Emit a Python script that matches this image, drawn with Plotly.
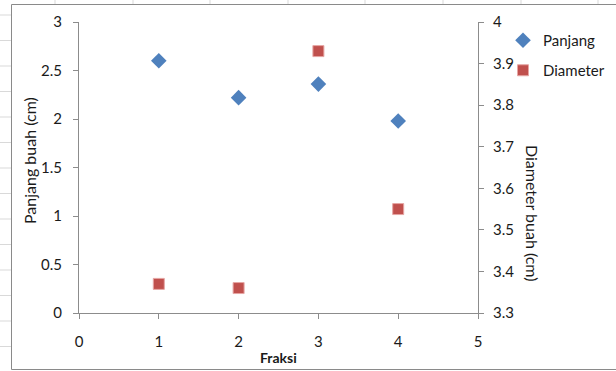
import plotly.graph_objects as go

fraksi = [1, 2, 3, 4]
panjang = [2.60, 2.22, 2.36, 1.98]
diameter = [3.37, 3.36, 3.93, 3.55]

W, H = 616, 371
L, R, T, B = 79, 138, 22, 58
PW, PH = W - L - R, H - T - B

def px(x):
    return (x - L) / PW

def py(y):
    return (H - B - y) / PH

FONT = "Lato"
TXT = "#1a1a1a"
AX = "#8c8c8c"

fig = go.Figure()
fig.add_trace(go.Scatter(x=fraksi, y=panjang, mode="markers", name="Panjang",
                         marker=dict(symbol="diamond", size=12, color="#4F81BD",
                                     line=dict(width=0)),
                         legend="legend", showlegend=True))
fig.add_trace(go.Scatter(x=fraksi, y=diameter, mode="markers", name="Diameter",
                         marker=dict(symbol="square", size=11, color="#C0504D",
                                     line=dict(width=1, color="#E6A6A4")),
                         yaxis="y2", legend="legend2", showlegend=True))

shapes = []
for gx in [55, 133, 210, 288, 365, 443, 521, 598]:
    shapes.append(dict(type="line", xref="paper", yref="paper",
                       x0=px(gx), x1=px(gx), y0=py(0), y1=py(4),
                       line=dict(color="#d9d9d9", width=1), layer="below"))
gy = 15.0
while gy < H:
    shapes.append(dict(type="line", xref="paper", yref="paper",
                       x0=px(0), x1=px(11), y0=py(gy), y1=py(gy),
                       line=dict(color="#d9d9d9", width=1), layer="below"))
    gy += 25.5
shapes.append(dict(type="rect", xref="paper", yref="paper",
                   x0=px(11.5), x1=px(640), y0=py(369.5), y1=py(4.5),
                   line=dict(color="#8a8a8a", width=1), fillcolor="rgba(0,0,0,0)",
                   layer="below"))

fig.update_layout(
    width=W, height=H,
    showlegend=True,
    margin=dict(l=L, r=R, t=T, b=B, autoexpand=False),
    paper_bgcolor="white", plot_bgcolor="white",
    font=dict(family=FONT, size=15, color=TXT),
    shapes=shapes,
    xaxis=dict(range=[0, 5], dtick=1, showgrid=False, zeroline=False,
               showline=True, linecolor=AX, linewidth=1,
               ticks="outside", ticklen=5, tickcolor=AX,
               ticklabelstandoff=10, tickfont=dict(size=15)),
    yaxis=dict(range=[0, 3], dtick=0.5, showgrid=False, zeroline=False,
               showline=True, linecolor=AX, linewidth=1,
               ticks="outside", ticklen=5, tickcolor=AX,
               ticklabelstandoff=8, tickfont=dict(size=15)),
    yaxis2=dict(range=[3.3, 4], dtick=0.1, overlaying="y", side="right",
                showgrid=False, zeroline=False,
                showline=True, linecolor=AX, linewidth=1,
                ticks="outside", ticklen=5, tickcolor=AX,
                ticklabelstandoff=6, tickfont=dict(size=15)),
    legend=dict(x=px(503), y=py(24), xanchor="left", yanchor="top",
                bgcolor="rgba(0,0,0,0)", font=dict(size=15),
                itemwidth=30, visible=True),
    legend2=dict(x=px(503), y=py(54), xanchor="left", yanchor="top",
                 bgcolor="rgba(0,0,0,0)", font=dict(size=15),
                 itemwidth=30, visible=True),
    annotations=[
        dict(text="Panjang buah (cm)", xref="paper", yref="paper",
             x=px(29), y=py(161), textangle=-90, showarrow=False,
             font=dict(size=16), xanchor="center", yanchor="middle"),
        dict(text="Diameter buah (cm)", xref="paper", yref="paper",
             x=px(533), y=py(213), textangle=90, showarrow=False,
             font=dict(size=16), xanchor="center", yanchor="middle"),
        dict(text="<b>Fraksi</b>", xref="paper", yref="paper",
             x=px(278), y=py(357), showarrow=False,
             font=dict(size=14), xanchor="center", yanchor="middle"),
    ],
)

fig.write_html("out.html")
